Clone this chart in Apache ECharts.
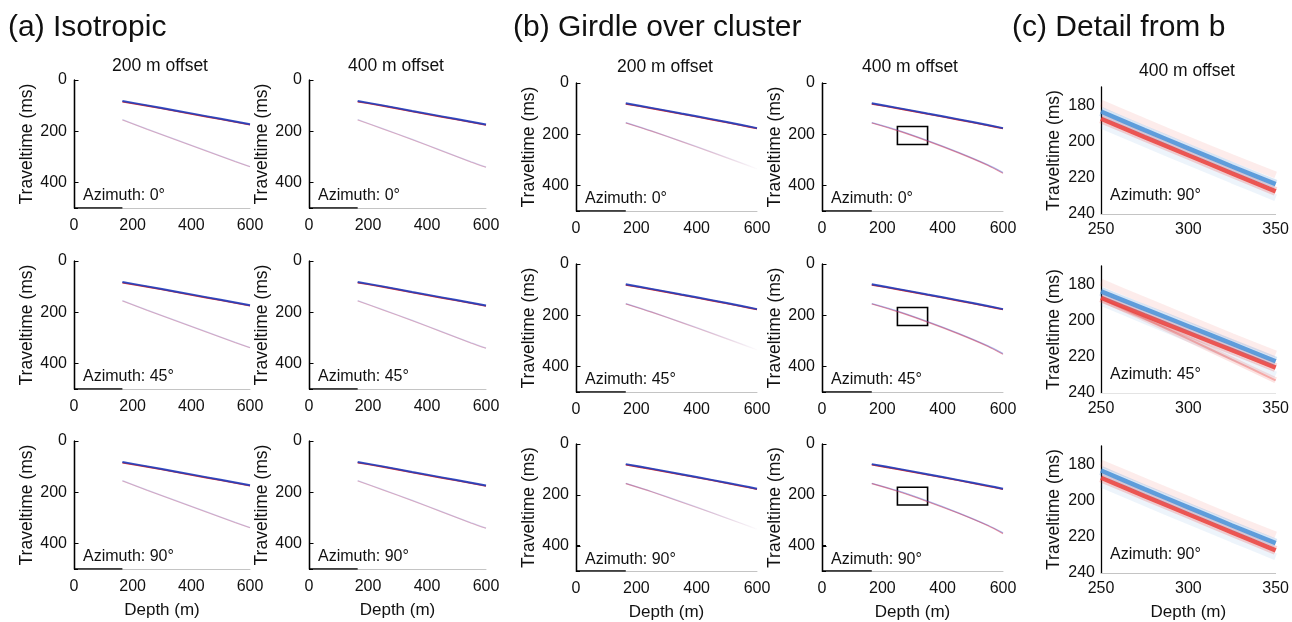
<!DOCTYPE html>
<html><head><meta charset="utf-8">
<script src="https://cdn.jsdelivr.net/npm/echarts@6/dist/echarts.min.js"></script>
<style>html,body{margin:0;padding:0;background:#fff}#c{width:1292px;height:622px}</style>
</head><body><div id="c"></div>
<script>
// ---------- data ----------
const depthAB = [165, 250, 350, 450, 550, 600];
// (a) Isotropic, 200 m offset
const iso200TopBlue = [82, 99, 120, 141, 162, 173];
const iso200TopRed  = [85, 101, 122, 143, 164, 175];
const iso200LowBlue = [155, 192, 234, 276, 318, 338];
const iso200LowRed  = [156, 193, 235, 277, 319, 339];
// (a) Isotropic, 400 m offset
const iso400TopBlue = [82, 99, 121, 142, 163, 174];
const iso400TopRed  = [85, 101, 123, 144, 165, 176];
const iso400LowBlue = [155, 190, 232, 276, 320, 340];
const iso400LowRed  = [156, 191, 233, 277, 321, 341];
// (b) Girdle over cluster, 200 m offset
const gir200TopBlue = [79, 97, 119, 141, 164, 176];
const gir200TopRed  = [82, 99, 121, 143, 166, 178];
const gir200LowBlue = [155, 187, 228, 270, 313, 335];
const gir200LowRed  = [156, 188, 229, 271, 314, 336];
// (b) Girdle over cluster, 400 m offset
const gir400TopBlue = [79, 97, 119, 141, 164, 176];
const gir400TopRed  = [82, 99, 121, 143, 166, 178];
const gir400LowBlue = [155, 184, 225, 270, 320, 350];
const gir400LowRed  = [156, 186, 227, 272, 322, 353];
// detail box drawn in (b) 400 m offset: [depth0, time0, depth1, time1]
const detailBox = [250, 170, 350, 240];
const axisDarkSpan = [0, 165];
const yAxisSpanAB = [0, 500];
// (c) detail, 400 m offset
const depthC = [250, 275, 300, 325, 350];
const c90Blue  = [183.5, 193.8, 203.8, 213.8, 223.5];
const c90Red   = [187.5, 197.6, 207.6, 217.6, 227.5];
const c90Pink  = [179, 189.2, 199.2, 209, 218.5];
const c90Sky   = [191, 201.2, 211.2, 221.2, 231];
const c45Blue  = [184, 193.6, 203.2, 212.8, 222.5];
const c45Red   = [187.5, 197.2, 206.8, 216.4, 226];
const c45Red2  = [188, 199, 210.2, 221.6, 233];
const c45Sky   = [190, 200, 210, 220, 230];
const c45Pink  = [179, 189, 199, 209, 218.5];
const c90bBlue = [183.5, 193.8, 203.8, 213.8, 223.5];
const c90bRed  = [187.5, 197.6, 207.6, 217.6, 227.5];
const c90bPink = [179.5, 189.5, 199.5, 209.5, 219];
const c90bSky  = [191, 201.2, 211.2, 221.2, 231];
// tick labels
const yTicksAB = [0, 200, 400];
const yTicksC = [180, 200, 220, 240];
const azimuthsAB = ['0°', '45°', '90°'];
const azimuthsC = ['90°', '45°', '90°'];
const panelTitles = ['(a) Isotropic', '(b) Girdle over cluster', '(c) Detail from b'];
const offsetTitles = ['200 m offset', '400 m offset', '200 m offset', '400 m offset', '400 m offset'];

// ---------- layout ----------
const FONT = "'Liberation Sans', Arial, Helvetica, sans-serif";
const TXT = '#111';
const colsAB = [{left: 74, w: 176}, {left: 309, w: 177}, {left: 576, w: 181}, {left: 822, w: 181}];
const rowTopsA = [80, 261, 441];
const rowTopsB = [83, 264, 444];
const H = 128;
const colC = {left: 1101, w: 176};
const rowTopsC = [87, 266, 446];
const HC = 127;

const BLUE = '#1f3fc0', RED = '#d82020';
const CBLUE = '#4a8fd6', CRED = '#e8403c';

const grids = [], xAxes = [], yAxes = [], series = [], graphics = [];

function pts(xs, ys) { return xs.map((x, i) => [x, ys[i]]); }
function line(gi, xs, ys, color, width, opacity, extra) {
  const s = {type: 'line', xAxisIndex: gi, yAxisIndex: gi, data: pts(xs, ys), showSymbol: false,
    smooth: 0.25, lineStyle: {color: color, width: width, opacity: opacity}};
  return Object.assign(s, extra || {});
}

const panelData = [
  [iso200TopBlue, iso200TopRed, iso200LowBlue, iso200LowRed],
  [iso400TopBlue, iso400TopRed, iso400LowBlue, iso400LowRed],
  [gir200TopBlue, gir200TopRed, gir200LowBlue, gir200LowRed],
  [gir400TopBlue, gir400TopRed, gir400LowBlue, gir400LowRed]
];
const abGridIndex = [];

for (let c = 0; c < 4; c++) {
  for (let r = 0; r < 3; r++) {
    const gi = grids.length;
    abGridIndex.push(gi);
    const top = (c < 2 ? rowTopsA : rowTopsB)[r];
    grids.push({left: colsAB[c].left, top: top, width: colsAB[c].w, height: H});
    xAxes.push({gridIndex: gi, type: 'value', min: 0, max: 600, interval: 200,
      name: r === 2 ? 'Depth (m)' : '', nameLocation: 'middle', nameGap: 33,
      nameTextStyle: {fontFamily: FONT, fontSize: 17, color: TXT},
      axisLine: {onZero: false, lineStyle: {color: '#c4c4c4', width: 1}},
      axisTick: {show: false}, splitLine: {show: false},
      axisLabel: {fontFamily: FONT, fontSize: 16, color: TXT, margin: 10}});
    yAxes.push({gridIndex: gi, type: 'value', min: 0, max: 500, interval: 200, inverse: true,
      name: 'Traveltime (ms)', nameLocation: 'middle', nameGap: 35,
      nameTextStyle: {fontFamily: FONT, fontSize: 17.5, color: TXT},
      axisLine: {show: true, onZero: false, lineStyle: {color: '#000', width: 1.3}},
      axisTick: {show: true, inside: true, length: 4, lineStyle: {color: '#000'}},
      axisLabel: {fontFamily: FONT, fontSize: 16, color: TXT, margin: 7,
        formatter: v => (v === 500 ? '' : String(v))},
      splitLine: {show: false}});
    const d = panelData[c];
    // dark part of the baseline
    series.push(line(gi, axisDarkSpan, [500, 500], '#000', 1.6, 1, {smooth: false}));
    // lower (faint) arrival
    if (c === 2) {
      const grad = (rgb) => new echarts.graphic.LinearGradient(0, 0, 1, 0, [
        {offset: 0, color: 'rgba(' + rgb + ',0.4)'}, {offset: 0.6, color: 'rgba(' + rgb + ',0.2)'},
        {offset: 1, color: 'rgba(' + rgb + ',0.0)'}]);
      series.push(line(gi, depthAB, d[2], grad('60,80,200'), 1.3, 1));
      series.push(line(gi, depthAB, d[3], grad('220,40,60'), 1.1, 1));
    } else {
      const op = c === 3 ? 0.45 : 0.25;
      series.push(line(gi, depthAB, d[2], '#3c50c8', 1.3, op));
      series.push(line(gi, depthAB, d[3], '#dc2840', 1.1, op));
    }
    // upper arrival
    series.push(line(gi, depthAB, d[1], RED, 1.6, 0.95));
    const topSeries = line(gi, depthAB, d[0], BLUE, 1.9, 0.9);
    if (c === 3) {
      topSeries.markArea = {silent: true, itemStyle: {color: 'rgba(0,0,0,0)', borderColor: '#000', borderWidth: 1.6},
        data: [[{coord: [detailBox[0], detailBox[1]]}, {coord: [detailBox[2], detailBox[3]]}]]};
    }
    series.push(topSeries);
    graphics.push({type: 'text', left: colsAB[c].left + 9, top: top + H - 20,
      style: {text: 'Azimuth: ' + azimuthsAB[r], font: '16px ' + FONT, fill: TXT}});
  }
}

const cData = [
  {blue: c90Blue, red: c90Red, pink: c90Pink, sky: c90Sky},
  {blue: c45Blue, red: c45Red, pink: c45Pink, sky: c45Sky, red2: c45Red2},
  {blue: c90bBlue, red: c90bRed, pink: c90bPink, sky: c90bSky}
];
for (let r = 0; r < 3; r++) {
  const gi = grids.length;
  const top = rowTopsC[r];
  grids.push({left: colC.left, top: top, width: colC.w, height: HC});
  xAxes.push({gridIndex: gi, type: 'value', min: 250, max: 350, interval: 50,
    name: r === 2 ? 'Depth (m)' : '', nameLocation: 'middle', nameGap: 31,
    nameTextStyle: {fontFamily: FONT, fontSize: 17, color: TXT},
    axisLine: {onZero: false, lineStyle: {color: r === 1 ? '#e4e4e4' : '#c4c4c4', width: 1}},
    axisTick: {show: false}, splitLine: {show: false},
    axisLabel: {fontFamily: FONT, fontSize: 16, color: TXT, margin: 8}});
  yAxes.push({gridIndex: gi, type: 'value', min: 170, max: 240, interval: 10, inverse: true,
    name: 'Traveltime (ms)', nameLocation: 'middle', nameGap: 38,
    nameTextStyle: {fontFamily: FONT, fontSize: 17.5, color: TXT},
    axisLine: {show: true, onZero: false, lineStyle: {color: '#000', width: 1.3}},
    axisTick: {show: false},
    axisLabel: {fontFamily: FONT, fontSize: 16, color: TXT, margin: 6,
      formatter: v => (yTicksC.indexOf(v) >= 0 ? String(v) : '')},
    splitLine: {show: false}});
  const d = cData[r];
  series.push(line(gi, depthC, d.pink, CRED, 7, 0.1));
  series.push(line(gi, depthC, d.sky, CBLUE, 7, 0.1));
  if (d.red2) {
    series.push(line(gi, depthC, d.red2, CRED, 6, 0.15));
    series.push(line(gi, depthC, d.red2, CRED, 2, 0.35));
  }
  series.push(line(gi, depthC, d.red, CRED, 9, 0.22));
  series.push(line(gi, depthC, d.red, CRED, 4.5, 0.85));
  series.push(line(gi, depthC, d.blue, CBLUE, 9, 0.22));
  series.push(line(gi, depthC, d.blue, CBLUE, 4.5, 0.85));
  graphics.push({type: 'text', left: colC.left + 9, top: top + HC - 26,
    style: {text: 'Azimuth: ' + azimuthsC[r], font: '16px ' + FONT, fill: TXT}});
}

// titles
const titleX = [8, 513, 1012];
panelTitles.forEach((t, i) => graphics.push({type: 'text', left: titleX[i], top: 13,
  style: {text: t, font: '30px ' + FONT, fill: TXT}}));
const offCenters = [162, 398, 667, 912, 1189];
const offTops = [57, 57, 58, 58, 62];
offsetTitles.forEach((t, i) => graphics.push({type: 'text', left: offCenters[i] - 50, top: offTops[i],
  style: {text: t, font: '17.5px ' + FONT, fill: TXT}}));

// left axis lines of panels (a) and (b) as graphic lines (layout positions of each grid)
abGridIndex.forEach(gi => {
  const g = grids[gi];
  const x = g.left + 0.5;
  graphics.push({type: 'line', silent: true, z: 100,
    shape: {x1: x, y1: g.top, x2: x, y2: g.top + g.height}, style: {stroke: '#000', lineWidth: 1.3}});
  yTicksAB.forEach(v => {
    const yy = Math.round(g.top + g.height * (v - yAxisSpanAB[0]) / (yAxisSpanAB[1] - yAxisSpanAB[0])) + 0.5;
    graphics.push({type: 'line', silent: true, z: 100,
      shape: {x1: x, y1: yy, x2: x + 4, y2: yy}, style: {stroke: '#000', lineWidth: 1}});
  });
});

const chart = echarts.init(document.getElementById('c'));
chart.setOption({
  backgroundColor: '#fff', animation: false,
  textStyle: {fontFamily: FONT},
  grid: grids, xAxis: xAxes, yAxis: yAxes, series: series, graphic: graphics
});
</script></body></html>
